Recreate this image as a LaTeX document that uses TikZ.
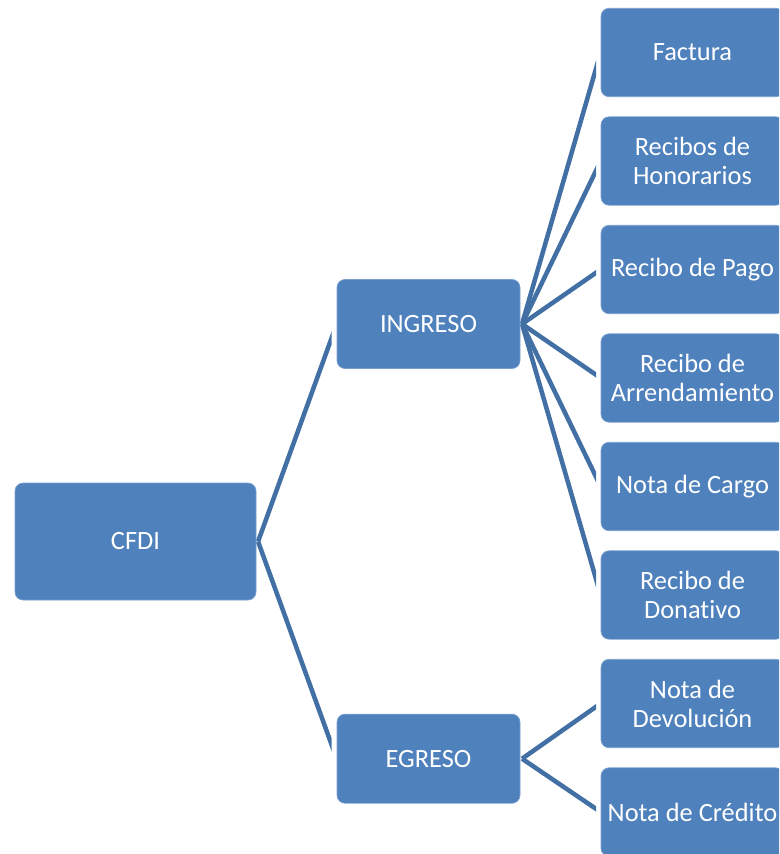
\documentclass[tikz,border=0pt]{standalone}
\usepackage{fontspec}
\setmainfont[RawFeature={-liga;-dlig}]{Carlito}
\usetikzlibrary{backgrounds}
\definecolor{boxblue}{RGB}{79,129,189}
\definecolor{boxedge}{RGB}{122,160,208}
\definecolor{linkblue}{RGB}{66,112,165}
\tikzset{
  card/.style={rectangle, rounded corners=6pt, fill=boxblue, draw=boxedge,
    line width=0.5pt, text=white, align=center, inner sep=0pt,
    font=\fontsize{19.8}{21.75}\selectfont},
  rootcard/.style={card, minimum width=180.75pt, minimum height=87.75pt},
  midcard/.style={card, minimum width=137.25pt, minimum height=66.8pt},
  leafcard/.style={card, minimum width=137.25pt, minimum height=66.3pt},
  link/.style={linkblue, line width=3.4pt, line cap=butt}
}
\begin{document}
\begin{tikzpicture}[x=0.75pt, y=-0.75pt]
\useasboundingbox (0,0) rectangle (779,854);
\clip (0,0) rectangle (779,854);

% tree nodes
\node[rootcard] (cfdi) at (135.5,541.5) {CFDI};
\node[midcard] (ing) at (428.5,324) {INGRESO};
\node[midcard] (egr) at (428.5,758.7) {EGRESO};

\node[leafcard] (fac) at (692.5,52.5)  {Factura};
\node[leafcard] (hon) at (692.5,161)   {Recibos de\\Honorarios};
\node[leafcard] (pag) at (692.5,269.5) {Recibo de Pago};
\node[leafcard] (arr) at (692.5,378)   {Recibo de\\Arrendamiento};
\node[leafcard] (car) at (692.5,486.5) {Nota de Cargo};
\node[leafcard] (don) at (692.5,595)   {Recibo de\\Donativo};
\node[leafcard] (dev) at (692.5,703.5) {Nota de\\Devolución};
\node[leafcard] (cre) at (692.5,812)   {Nota de Crédito};

% connectors, cut off vertically just before the child boxes
\begin{scope}[on background layer]
  \begin{scope}
    \clip (0,0) rectangle (331.7,854);
    \draw[link] ([xshift=1.3pt]cfdi.east) -- (ing.west);
    \draw[link] ([xshift=1.3pt]cfdi.east) -- (egr.west);
  \end{scope}
  \begin{scope}
    \clip (0,0) rectangle (596,854);
    \foreach \leaf in {fac,hon,pag,arr,car,don}
      \draw[link] ([xshift=1.3pt]ing.east) -- (\leaf.west);
    \foreach \leaf in {dev,cre}
      \draw[link] ([xshift=1.3pt]egr.east) -- (\leaf.west);
  \end{scope}
\end{scope}
\end{tikzpicture}
\end{document}
